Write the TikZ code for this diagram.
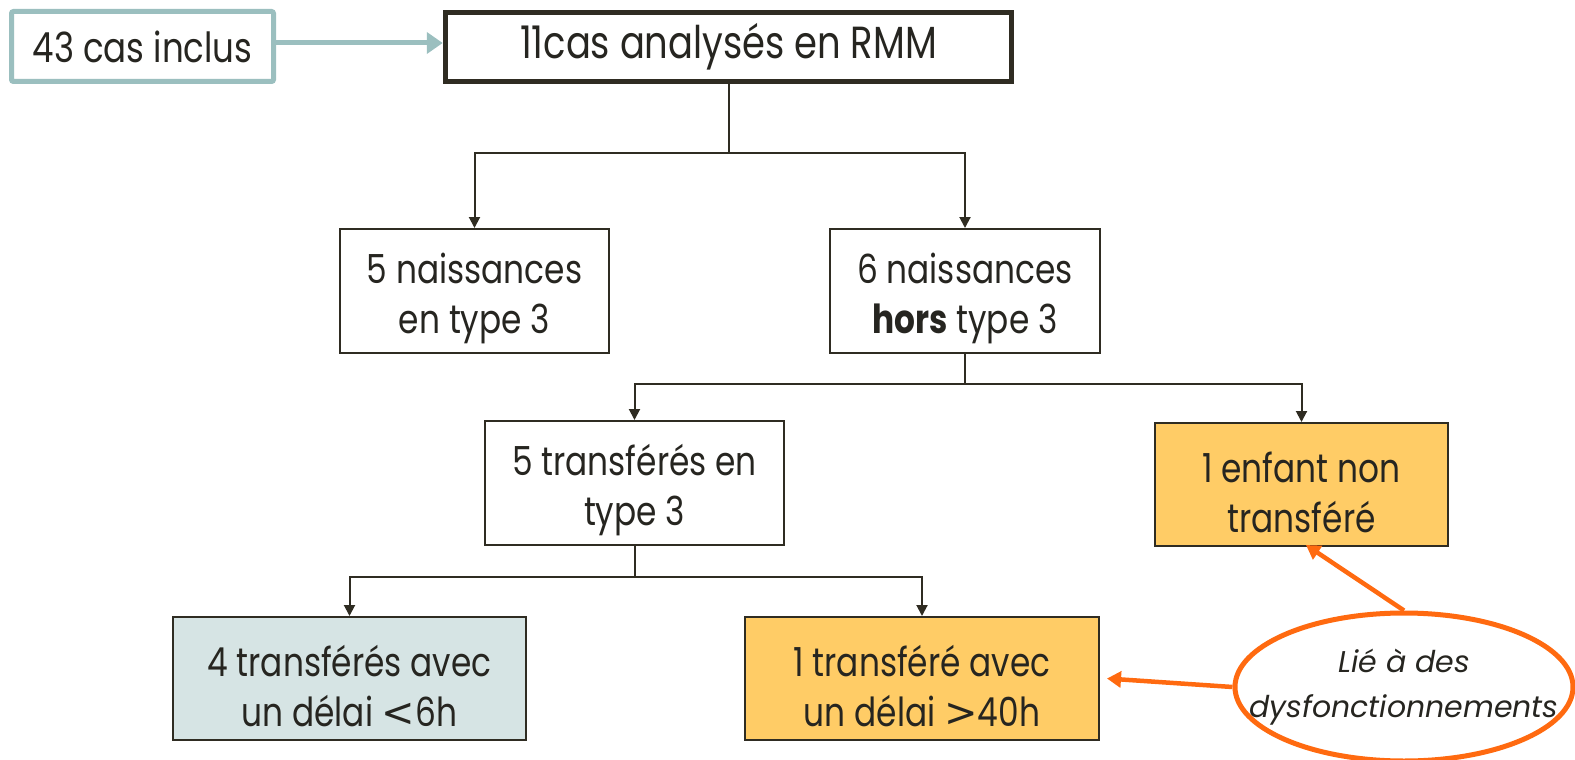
\documentclass[tikz,border=0pt]{standalone}
\usepackage{fontspec}
\setmainfont{Poppins}[FakeStretch=0.82]
\newfontfamily\itfam{Poppins}
\newfontfamily\symfam{DejaVu Sans}
\newcommand{\lsym}{{\symfam <}}
\newcommand{\gsym}{{\symfam >}}
\newcommand{\topst}{\rule{0pt}{46pt}}
\usetikzlibrary{arrows.meta,shapes.geometric}
\definecolor{dk}{HTML}{2F2C22}
\definecolor{tealb}{HTML}{9BBFBF}
\definecolor{tealf}{HTML}{D6E4E4}
\definecolor{yel}{HTML}{FFCC66}
\definecolor{org}{HTML}{FF6A10}
\definecolor{txt}{HTML}{262520}
\tikzset{
  box/.style={draw=dk, line width=2pt, fill=white, rectangle, align=center, text=txt,
    font=\fontsize{40}{50}\selectfont, inner sep=0pt},
  dkarr/.style={draw=dk, line width=2pt, -{Triangle[length=11pt,width=11pt]}},
  dkline/.style={draw=dk, line width=2pt},
  orarr/.style={draw=org, line width=4.5pt, -{Triangle[length=14pt,width=16pt]}},
}
\begin{document}
\begin{tikzpicture}[x=1pt,y=-1pt]
\useasboundingbox (0,0) rectangle (1575,760);
\node[box, draw=tealb, line width=5pt, rounded corners=2pt, minimum width=262pt, minimum height=70pt,
  font=\fontsize{41.5}{50}\selectfont] (inc) at (142.5,46.5) {43 cas inclus};
\node[box, line width=5.5pt, minimum width=566pt, minimum height=69pt,
  font=\fontsize{45}{50}\selectfont] (rmm) at (728.5,47) {11cas analysés en RMM};
\node[box, minimum width=269pt, minimum height=124pt] (n5) at (474.5,291) {\topst 5 naissances\\en type 3};
\node[box, minimum width=270pt, minimum height=124pt] (n6) at (965,291) {\topst 6 naissances\\\textbf{hors} type 3};
\node[box, minimum width=299pt, minimum height=124pt] (t5) at (634.5,483) {\topst 5 transférés en\\type 3};
\node[box, fill=yel, minimum width=293pt, minimum height=123pt] (enf) at (1301.5,484.5) {\topst 1 enfant non\\transféré};
\node[box, fill=tealf, minimum width=353pt, minimum height=123pt] (d6) at (349.5,678.5) {\topst 4 transférés avec\\un délai \lsym6h};
\node[box, fill=yel, minimum width=354pt, minimum height=123pt] (d40) at (922,678.5) {\topst 1 transféré avec\\un délai \gsym40h};
\node[ellipse, draw=org, line width=5pt, fill=white, minimum width=338pt, minimum height=148pt,
  inner xsep=-60pt, inner ysep=0pt,
  align=center, text=txt, font=\itfam\itshape\fontsize{30}{45}\selectfont] (lie) at (1404,687) {Lié à des\\dysfonctionnements};
% teal arrow
\draw[draw=tealb, line width=5pt, -{Triangle[length=16pt,width=21pt]}] (inc.east |- 0,43) -- (rmm.west |- 0,43);
% tree connectors
\coordinate (j1) at (rmm.south |- 0,153);
\draw[dkline] (rmm.south) -- (j1);
\draw[dkarr] (j1) -| (n5.north);
\draw[dkarr] (j1) -| (n6.north);
\coordinate (j2) at (n6.south |- 0,384);
\draw[dkline] (n6.south) -- (j2);
\draw[dkarr] (j2) -| (t5.north);
\draw[dkarr] (j2) -| (enf.north);
\coordinate (j3) at (t5.south |- 0,577);
\draw[dkline] (t5.south) -- (j3);
\draw[dkarr] (j3) -| (d6.north);
\draw[dkarr] (j3) -| (d40.north);
% orange arrows
\coordinate (t1) at (1306,545);
\coordinate (t2) at ([xshift=7pt]d40.east);
\draw[orarr] (lie.north) -- (t1);
\draw[orarr] (lie.west) -- (t2);
\end{tikzpicture}
\end{document}
